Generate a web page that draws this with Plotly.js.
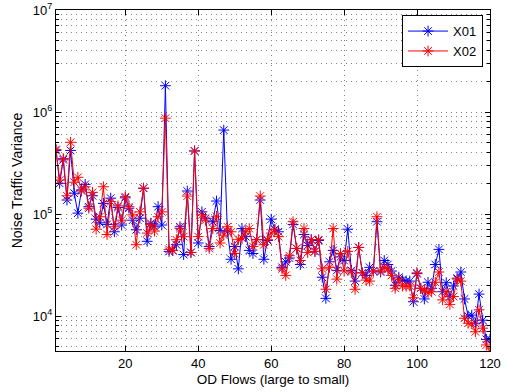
<!DOCTYPE html>
<html>
<head>
<meta charset="utf-8">
<script src="https://cdn.plot.ly/plotly-3.0.1.min.js"></script>
<style>html,body{margin:0;padding:0;background:#fff;}#chart{width:507px;height:392px;}</style>
</head>
<body>
<div id="chart"></div>
<script>
// OD flow index (large to small)
var odFlows = [];
for (var k = 1; k <= 120; k++) odFlows.push(k);

var seriesNames = ["X01", "X02"];

var x01 = [
  4.2e5, 2.0e5, 3.4e5, 1.37e5, 4.2e5, 1.6e5, 1.02e5, 1.72e5, 1.95e5, 1.18e5,
  1.51e5, 8.9e4, 8.2e4, 1.27e5, 7.9e4, 1.43e5, 6.7e4, 1.16e5, 7.8e4, 1.44e5,
  1.14e5, 8.7e4, 7.0e4, 9.1e4, 1.79e5, 5.4e4, 8.1e4, 7.5e4, 1.18e5, 7.8e4,
  1.81e6, 4.3e4, 4.4e4, 5.0e4, 7.5e4, 4.0e4, 1.68e5, 4.2e4, 4.15e5, 5.2e4,
  1.05e5, 9.1e4, 4.8e4, 8.4e4, 1.34e5, 6.9e4, 6.65e5, 6.7e4, 3.6e4, 4.8e4,
  2.9e4, 7.2e4, 6.0e4, 4.4e4, 4.1e4, 5.6e4, 1.37e5, 3.6e4, 5.5e4, 8.9e4,
  7.1e4, 6.7e4, 3.0e4, 3.4e4, 3.7e4, 7.9e4, 4.6e4, 3.2e4, 6.3e4, 4.9e4,
  5.6e4, 4.3e4, 5.5e4, 2.4e4, 1.49e4, 3.4e4, 4.4e4, 2.8e4, 3.8e4, 3.5e4,
  7.1e4, 2.8e4, 2.2e4, 4.7e4, 2.65e4, 2.5e4, 3.0e4, 2.76e4, 8.4e4, 2.7e4,
  3.5e4, 3.2e4, 2.76e4, 2.0e4, 2.4e4, 2.25e4, 2.2e4, 2.2e4, 1.38e4, 2.6e4,
  1.87e4, 1.47e4, 2.14e4, 1.87e4, 3.2e4, 4.5e4, 1.73e4, 2.12e4, 1.55e4, 1.97e4,
  2.35e4, 2.7e4, 1.47e4, 1.0e4, 1.02e4, 8.5e3, 1.64e4, 9.1e3, 5.9e3, 5.9e3
];

var x02 = [
  4.3e5, 2.15e5, 3.5e5, 1.51e5, 5.05e5, 2.05e5, 2.29e5, 1.68e5, 1.85e5, 1.14e5,
  1.63e5, 7.1e4, 9.4e4, 1.85e5, 6.3e4, 1.32e5, 7.5e4, 1.2e5, 8.7e4, 1.48e5,
  1.18e5, 9.8e4, 5.0e4, 1.05e5, 1.79e5, 6.5e4, 7.9e4, 6.8e4, 9.4e4, 1.05e5,
  8.7e5, 4.5e4, 4.4e4, 5.6e4, 7.2e4, 6.0e4, 1.5e5, 4.2e4, 4.15e5, 6.0e4,
  9.8e4, 8.7e4, 4.6e4, 7.2e4, 9.5e4, 5.2e4, 6.2e4, 7.5e4, 6.7e4, 4.1e4,
  5.6e4, 5.8e4, 6.7e4, 7.2e4, 4.8e4, 5.6e4, 1.5e5, 5.0e4, 5.6e4, 6.5e4,
  7.0e4, 6.0e4, 2.9e4, 2.5e4, 3.9e4, 8.4e4, 4.6e4, 3.5e4, 7.2e4, 4.2e4,
  5.6e4, 4.3e4, 5.6e4, 2.9e4, 1.83e4, 3.0e4, 7.2e4, 2.3e4, 4.1e4, 2.76e4,
  4.3e4, 2.7e4, 1.83e4, 4.7e4, 2.65e4, 2.25e4, 2.2e4, 2.76e4, 9.4e4, 2.76e4,
  3.0e4, 2.9e4, 2.5e4, 1.87e4, 2.3e4, 1.97e4, 1.95e4, 1.97e4, 1.51e4, 2.65e4,
  1.87e4, 1.8e4, 1.69e4, 1.73e4, 2.14e4, 2.7e4, 1.44e4, 1.73e4, 1.3e4, 1.55e4,
  2.3e4, 2.2e4, 9.5e3, 8.5e3, 8.4e3, 7.0e3, 1.15e4, 7.6e3, 5.2e3, 4.5e3
];

var yTickVals = [1e4, 1e5, 1e6, 1e7];
var yTickText = ["10<sup>4</sup>", "10<sup>5</sup>", "10<sup>6</sup>", "10<sup>7</sup>"];
var xTickVals = [20, 40, 60, 80, 100, 120];

var minorVals = [];
for (var e = 3; e <= 6; e++) {
  for (var m = 2; m <= 9; m++) minorVals.push(m * Math.pow(10, e));
}

var gridCol = "#808080";
var dotDash = "1px,4px";
var font = {family: "Liberation Sans, Arial, Helvetica, sans-serif", size: 13, color: "#000"};

var traces = [
  {x: odFlows, y: x01, name: seriesNames[0], type: "scatter", mode: "lines+markers",
   line: {color: "#0000ff", width: 1},
   marker: {symbol: "asterisk-open", size: 9, color: "#0000ff", line: {color: "#0000ff", width: 1}}},
  {x: odFlows, y: x02, name: seriesNames[1], type: "scatter", mode: "lines+markers",
   line: {color: "#ff0000", width: 1},
   marker: {symbol: "asterisk-open", size: 9, color: "#ff0000", line: {color: "#ff0000", width: 1}}}
];

var layout = {
  width: 507, height: 392,
  margin: {l: 56, r: 17, t: 10, b: 41},
  paper_bgcolor: "#fff", plot_bgcolor: "#fff",
  font: font,
  showlegend: true,
  legend: {x: 0.984, y: 0.985, xanchor: "right", yanchor: "top",
           bgcolor: "#fff", bordercolor: "#000", borderwidth: 1,
           font: {family: font.family, size: 13, color: "#000"},
           tracegroupgap: 0, itemwidth: 40},
  xaxis: {
    range: [1, 120], tickvals: xTickVals, ticks: "inside", ticklen: 5, tickcolor: "#000",
    showline: true, linecolor: "#000", linewidth: 1, mirror: "ticks",
    showgrid: true, gridcolor: gridCol, griddash: dotDash, gridwidth: 1,
    zeroline: false, tickfont: {size: 13},
    title: {text: "OD Flows (large to small)", font: {size: 13.5}, standoff: 4}
  },
  yaxis: {
    type: "log", range: [3.657, 7], tickvals: yTickVals, ticktext: yTickText,
    ticks: "inside", ticklen: 5, tickcolor: "#000",
    showline: true, linecolor: "#000", linewidth: 1, mirror: "ticks",
    showgrid: true, gridcolor: gridCol, griddash: dotDash, gridwidth: 1,
    zeroline: false, tickfont: {size: 13},
    minor: {tickvals: minorVals, ticks: "inside", ticklen: 3, tickcolor: "#000",
            showgrid: true, gridcolor: gridCol, griddash: dotDash, gridwidth: 1},
    title: {text: "Noise Traffic Variance", font: {size: 14}, standoff: 6}
  }
};

Plotly.newPlot("chart", traces, layout, {displayModeBar: false, staticPlot: true});
</script>
</body>
</html>
